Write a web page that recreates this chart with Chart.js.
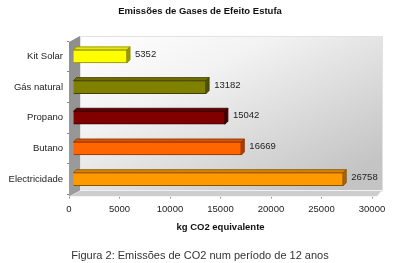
<!DOCTYPE html>
<html>
<head>
<meta charset="utf-8">
<script src="https://cdn.jsdelivr.net/npm/chart.js@4"></script>
<style>
html,body{margin:0;padding:0;background:#fff;}
#wrap{width:400px;height:263px;}
</style>
</head>
<body>
<div id="wrap"><canvas id="c" width="400" height="263"></canvas></div>
<script>
const categories = ["Kit Solar", "Gás natural", "Propano", "Butano", "Electricidade"];
const values = [5352, 13182, 15042, 16669, 26758];
const xTicks = [0, 5000, 10000, 15000, 20000, 25000, 30000];
const frontColors = ["#ffff00", "#808000", "#800000", "#ff6600", "#ff9900"];
const topColors = ["#e6e600", "#6e6e00", "#640000", "#d85400", "#d98200"];
const sideColors = ["#9a9a00", "#505000", "#480000", "#a84000", "#a86400"];
const borderColors = ["#8a8a00", "#404000", "#3a0000", "#8a3400", "#8a5200"];

const FONT = "'Liberation Sans', Arial, sans-serif";
const SHIFT = 4, DEPTH = 3;

const room = {
  id: 'room',
  beforeDatasetsDraw(chart) {
    const ca = chart.chartArea, ctx = chart.ctx;
    const L = ca.left, R = ca.right, T = ca.top, B = ca.bottom;
    ctx.save();
    const g = ctx.createLinearGradient(L + 11, T - 5, L + 120, B + 60);
    g.addColorStop(0, '#ffffff');
    g.addColorStop(0.35, '#f3f3f3');
    g.addColorStop(1, '#c4c4c4');
    ctx.fillStyle = g;
    ctx.fillRect(L + 11, T - 5, (R + 10) - (L + 11), (B - 4) - (T - 5));
    ctx.strokeStyle = '#e2e2e2';
    ctx.lineWidth = 1;
    ctx.strokeRect(L + 11.5, T - 4.5, (R + 10) - (L + 11), (B - 4) - (T - 5));
    ctx.beginPath();
    ctx.moveTo(L, B + 2);
    ctx.lineTo(L + 11, B - 4);
    ctx.lineTo(R + 10, B - 4);
    ctx.lineTo(R + 5, B + 2);
    ctx.closePath();
    ctx.fillStyle = '#cdcdcd';
    ctx.fill();
    ctx.strokeStyle = '#f2f2f2';
    ctx.stroke();
    const lg = ctx.createLinearGradient(L, T, L, B);
    lg.addColorStop(0, '#8e8e8e');
    lg.addColorStop(1, '#9c9c9c');
    ctx.beginPath();
    ctx.moveTo(L, T + 1);
    ctx.lineTo(L + 11, T - 5);
    ctx.lineTo(L + 11, B - 4);
    ctx.lineTo(L, B + 2);
    ctx.closePath();
    ctx.fillStyle = lg;
    ctx.fill();
    ctx.restore();
    ctx.save();
    ctx.translate(SHIFT, 0);
  },
  afterDatasetsDraw(chart) {
    const ctx = chart.ctx;
    ctx.restore();
    const meta = chart.getDatasetMeta(0);
    ctx.save();
    meta.data.forEach((bar, i) => {
      const p = bar.getProps(['x', 'y', 'base', 'height'], true);
      const x0 = p.base + SHIFT, x1 = p.x + SHIFT;
      const top = p.y - p.height / 2, bot = p.y + p.height / 2;
      ctx.lineWidth = 0.8;
      ctx.strokeStyle = borderColors[i];
      ctx.beginPath();
      ctx.moveTo(x0, top);
      ctx.lineTo(x0 + DEPTH, top - DEPTH);
      ctx.lineTo(x1 + DEPTH, top - DEPTH);
      ctx.lineTo(x1, top);
      ctx.closePath();
      ctx.fillStyle = topColors[i];
      ctx.fill();
      ctx.stroke();
      ctx.beginPath();
      ctx.moveTo(x1, top);
      ctx.lineTo(x1 + DEPTH, top - DEPTH);
      ctx.lineTo(x1 + DEPTH, bot - DEPTH);
      ctx.lineTo(x1, bot);
      ctx.closePath();
      ctx.fillStyle = sideColors[i];
      ctx.fill();
      ctx.stroke();
      ctx.fillStyle = '#222';
      ctx.font = "9.5px " + FONT;
      ctx.textAlign = 'left';
      ctx.textBaseline = 'middle';
      ctx.fillText(String(values[i]), x1 + DEPTH + 5, p.y - 2);
    });
    ctx.restore();
  }
};

new Chart(document.getElementById('c'), {
  type: 'bar',
  data: {
    labels: categories,
    datasets: [{
      data: values,
      backgroundColor: frontColors,
      borderColor: borderColors,
      borderWidth: 1,
      barThickness: 13,
      xAxisID: 'x',
      yAxisID: 'y'
    }]
  },
  options: {
    indexAxis: 'y',
    responsive: false,
    animation: false,
    devicePixelRatio: 1,
    layout: { padding: { left: 0, right: 0, top: 0, bottom: 0 } },
    plugins: {
      legend: { display: false },
      tooltip: { enabled: false },
      title: {
        display: true,
        text: 'Emissões de Gases de Efeito Estufa',
        color: '#111',
        font: { family: FONT, size: 9.5, weight: 'bold' },
        padding: { top: 6, bottom: 23.6 }
      },
      subtitle: {
        display: true,
        position: 'bottom',
        text: 'Figura 2: Emissões de CO2 num período de 12 anos',
        color: '#333',
        font: { family: FONT, size: 11, weight: 'normal' },
        padding: { top: 17, bottom: 0 }
      }
    },
    scales: {
      x: {
        type: 'linear',
        position: 'bottom',
        min: 0,
        max: 30000,
        afterBuildTicks(scale) { scale.ticks = xTicks.map(v => ({ value: v })); },
        ticks: {
          color: '#222',
          font: { family: FONT, size: 9.5 },
          padding: 5,
          maxRotation: 0,
          callback: v => String(v)
        },
        grid: { display: true, drawOnChartArea: false, drawTicks: true, tickLength: 4, color: '#888' },
        border: { display: false },
        title: {
          display: true,
          text: 'kg CO2 equivalente',
          color: '#111',
          font: { family: FONT, size: 9.5, weight: 'bold' },
          padding: { top: 1.5, bottom: 0 }
        }
      },
      y: {
        type: 'category',
        position: 'left',
        offset: true,
        afterFit(scale) { scale.width = 69; },
        ticks: {
          color: '#222',
          font: { family: FONT, size: 9.5 },
          padding: 4
        },
        grid: { display: true, drawOnChartArea: false, drawTicks: true, tickLength: 2, offset: true, color: '#888' },
        border: { display: false }
      },
      yr: {
        type: 'linear',
        position: 'right',
        display: true,
        afterFit(scale) { scale.width = 28; },
        ticks: { display: false },
        grid: { display: false },
        border: { display: false }
      }
    }
  },
  plugins: [room]
});
</script>
</body>
</html>
